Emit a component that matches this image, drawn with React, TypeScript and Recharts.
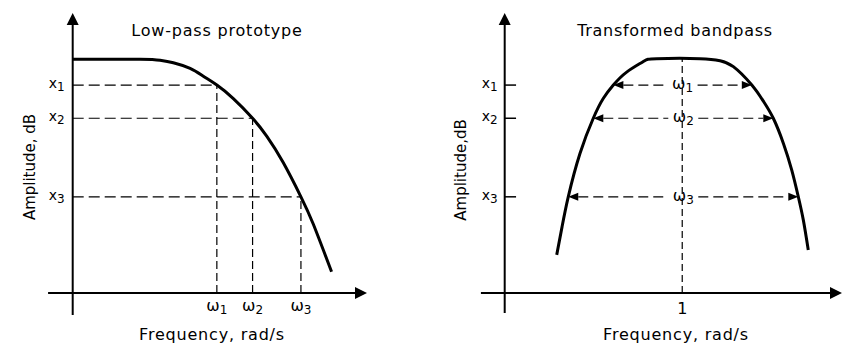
import React from 'react';
import { ComposedChart, Line, XAxis, YAxis, ReferenceLine } from 'recharts';

// low-pass prototype, frequency and amplitude in arbitrary units
const lowpassFreq = [0, 2.24, 2.91, 3.35, 3.91, 4.35, 4.8, 5.35, 5.99, 6.46, 7.01, 7.6, 8.01, 8.62];
const lowpassAmp = [9.02, 9.02, 8.98, 8.88, 8.66, 8.36, 8.02, 7.5, 6.74, 6.05, 5.03, 3.71, 2.66, 0.82];

// transformed bandpass, frequency in rad/s (centre = 1)
const bandpassFreq = [
  0.293, 0.323, 0.358, 0.424, 0.499, 0.555, 0.612, 0.687, 0.781, 0.856, 1.1, 1.213, 1.288, 1.392, 1.457, 1.513,
  1.57, 1.617, 1.654, 1.682, 1.71,
];
const bandpassAmp = [
  1.47, 2.55, 3.71, 5.38, 6.74, 7.5, 8.02, 8.52, 8.93, 9.04, 9.04, 8.96, 8.73, 8.02, 7.4, 6.74, 5.77, 4.74, 3.71,
  2.82, 1.66,
];

// x1, x2, x3 attenuation levels
const levels = [8.02, 6.74, 3.71];
// ω1, ω2, ω3 on the prototype
const lowpassEdges = [4.8, 5.99, 7.6];
// band edges on the bandpass at each level
const bandLower = [0.612, 0.499, 0.358];
const bandUpper = [1.392, 1.513, 1.654];
const centerFreq = 1;

const lowpassData = lowpassFreq.map((f, i) => ({ f, a: lowpassAmp[i] }));
const bandpassData = bandpassFreq.map((f, i) => ({ f, a: bandpassAmp[i] }));

const FONT = "'DejaVu Sans', sans-serif";
const W = 843;
const H = 346;

// axis line with a filled arrowhead at the far end
const axisArrow = (p: any) => {
  const { x1, y1, x2, y2 } = p;
  const a = Math.atan2(y2 - y1, x2 - x1);
  const c = Math.cos(a);
  const s = Math.sin(a);
  const bx = x2 - 12 * c;
  const by = y2 - 12 * s;
  return (
    <g>
      <line x1={x1} y1={y1} x2={bx} y2={by} stroke="#000" strokeWidth={2} />
      <polygon
        points={`${x2},${y2} ${bx - 6 * s},${by + 6 * c} ${bx + 6 * s},${by - 6 * c}`}
        fill="#000"
      />
    </g>
  );
};

// dashed double arrow between the band edges, label in the gap
const bandArrow = (n: number) => (p: any) => {
  const { x1, y1, x2 } = p;
  const mid = (x1 + x2) / 2;
  const head = 10;
  const half = 4;
  const gap = 15;
  return (
    <g>
      <line x1={x1 + head} y1={y1} x2={mid - gap} y2={y1} stroke="#000" strokeWidth={1.2} strokeDasharray="10 5" />
      <line x1={mid + gap} y1={y1} x2={x2 - head} y2={y1} stroke="#000" strokeWidth={1.2} strokeDasharray="10 5" />
      <polygon points={`${x1},${y1} ${x1 + head},${y1 - half} ${x1 + head},${y1 + half}`} fill="#000" />
      <polygon points={`${x2},${y1} ${x2 - head},${y1 - half} ${x2 - head},${y1 + half}`} fill="#000" />
      <text x={mid} y={y1 + 4} textAnchor="middle" fontFamily={FONT} fontSize={16} fill="#000">
        ω<tspan fontSize={12} dy={3}>{n}</tspan>
      </text>
    </g>
  );
};

function OmegaTick(props: any) {
  const { x, y, payload } = props;
  const n = lowpassEdges.indexOf(payload.value) + 1;
  return (
    <text x={x} y={y + 18} textAnchor="middle" fontFamily={FONT} fontSize={16} fill="#000">
      ω<tspan fontSize={12} dy={3}>{n}</tspan>
    </text>
  );
}

function LevelTick(props: any) {
  const { x, y, payload } = props;
  const n = levels.indexOf(payload.value) + 1;
  return (
    <text x={x} y={y + 3} textAnchor="end" fontFamily={FONT} fontSize={14} fill="#000">
      x<tspan fontSize={12} dy={3}>{n}</tspan>
    </text>
  );
}

function CenterTick(props: any) {
  const { x, y, payload } = props;
  return (
    <text x={x} y={y + 21} textAnchor="middle" fontFamily={FONT} fontSize={16} fill="#000">
      {payload.value}
    </text>
  );
}

const textStyle = { fontFamily: FONT, fill: '#000' };

function LowpassChart() {
  return (
    <ComposedChart width={421} height={H} data={lowpassData} margin={{ top: 13, right: 54, bottom: 0, left: 0 }}>
      <XAxis
        dataKey="f"
        type="number"
        domain={[0, 9.8]}
        allowDataOverflow
        ticks={lowpassEdges}
        interval={0}
        tick={<OmegaTick />}
        axisLine={false}
        tickLine={false}
        tickSize={0}
        tickMargin={0}
        height={53}
      />
      <YAxis
        type="number"
        domain={[0, 10.8]}
        allowDataOverflow
        ticks={levels}
        interval={0}
        tick={<LevelTick />}
        axisLine={false}
        tickLine={false}
        tickSize={0}
        tickMargin={8}
        width={72.7}
      />
      {levels.map((lv, i) => (
        <ReferenceLine
          key={`h${i}`}
          segment={[{ x: 0, y: lv }, { x: lowpassEdges[i], y: lv }]}
          stroke="#000"
          strokeWidth={1.2}
          strokeDasharray="11 5"
        />
      ))}
      {levels.map((lv, i) => (
        <ReferenceLine
          key={`v${i}`}
          segment={[{ x: lowpassEdges[i], y: 0 }, { x: lowpassEdges[i], y: lv }]}
          stroke="#000"
          strokeWidth={1.2}
          strokeDasharray="8 4"
        />
      ))}
      <ReferenceLine segment={[{ x: -0.82, y: 0 }, { x: 9.8, y: 0 }]} ifOverflow="visible" shape={axisArrow} />
      <ReferenceLine segment={[{ x: 0, y: -0.85 }, { x: 0, y: 10.8 }]} ifOverflow="visible" shape={axisArrow} />
      <Line dataKey="a" type="natural" stroke="#000" strokeWidth={3} dot={false} isAnimationActive={false} />
      <text x={217} y={36} textAnchor="middle" fontSize={16} letterSpacing={0.8} {...textStyle}>
        Low-pass prototype
      </text>
      <text x={212} y={340} textAnchor="middle" fontSize={16} letterSpacing={0.8} {...textStyle}>
        Frequency, rad/s
      </text>
      <text x={35} y={167} transform="rotate(-90 35 167)" textAnchor="middle" fontSize={15} {...textStyle}>
        Amplitude, dB
      </text>
    </ComposedChart>
  );
}

function BandpassChart() {
  const peak = Math.max(...bandpassAmp);
  return (
    <ComposedChart width={422} height={H} data={bandpassData} margin={{ top: 13, right: 1, bottom: 0, left: 0 }}>
      <XAxis
        dataKey="f"
        type="number"
        domain={[0, 1.9]}
        allowDataOverflow
        ticks={[centerFreq]}
        interval={0}
        tick={<CenterTick />}
        axisLine={false}
        tickLine={false}
        tickSize={0}
        tickMargin={0}
        height={53}
      />
      <YAxis
        type="number"
        domain={[0, 10.8]}
        allowDataOverflow
        ticks={levels}
        interval={0}
        tick={<LevelTick />}
        axisLine={false}
        tickLine={false}
        tickSize={0}
        tickMargin={7}
        width={83.7}
      />
      <ReferenceLine
        segment={[{ x: centerFreq, y: 0 }, { x: centerFreq, y: peak }]}
        stroke="#000"
        strokeWidth={1.2}
        strokeDasharray="7 4"
      />
      {levels.map((lv, i) => (
        <ReferenceLine
          key={`t${i}`}
          segment={[{ x: 0, y: lv }, { x: 0.064, y: lv }]}
          stroke="#000"
          strokeWidth={1.5}
        />
      ))}
      {levels.map((lv, i) => (
        <ReferenceLine
          key={`a${i}`}
          segment={[{ x: bandLower[i], y: lv }, { x: bandUpper[i], y: lv }]}
          shape={bandArrow(i + 1)}
        />
      ))}
      <ReferenceLine segment={[{ x: -0.134, y: 0 }, { x: 1.9, y: 0 }]} ifOverflow="visible" shape={axisArrow} />
      <ReferenceLine segment={[{ x: 0, y: -0.77 }, { x: 0, y: 10.8 }]} ifOverflow="visible" shape={axisArrow} />
      <Line dataKey="a" type="natural" stroke="#000" strokeWidth={3} dot={false} isAnimationActive={false} />
      <text x={254} y={36} textAnchor="middle" fontSize={16} letterSpacing={0.7} {...textStyle}>
        Transformed bandpass
      </text>
      <text x={255} y={340} textAnchor="middle" fontSize={16} letterSpacing={0.8} {...textStyle}>
        Frequency, rad/s
      </text>
      <text x={45} y={170} transform="rotate(-90 45 170)" textAnchor="middle" fontSize={15} {...textStyle}>
        Amplitude,dB
      </text>
    </ComposedChart>
  );
}

export default function App() {
  return (
    <div style={{ position: 'absolute', left: 0, top: 0, width: W, height: H, background: '#fff' }}>
      <div style={{ position: 'absolute', left: 0, top: 0 }}>
        <LowpassChart />
      </div>
      <div style={{ position: 'absolute', left: 421, top: 0 }}>
        <BandpassChart />
      </div>
    </div>
  );
}
